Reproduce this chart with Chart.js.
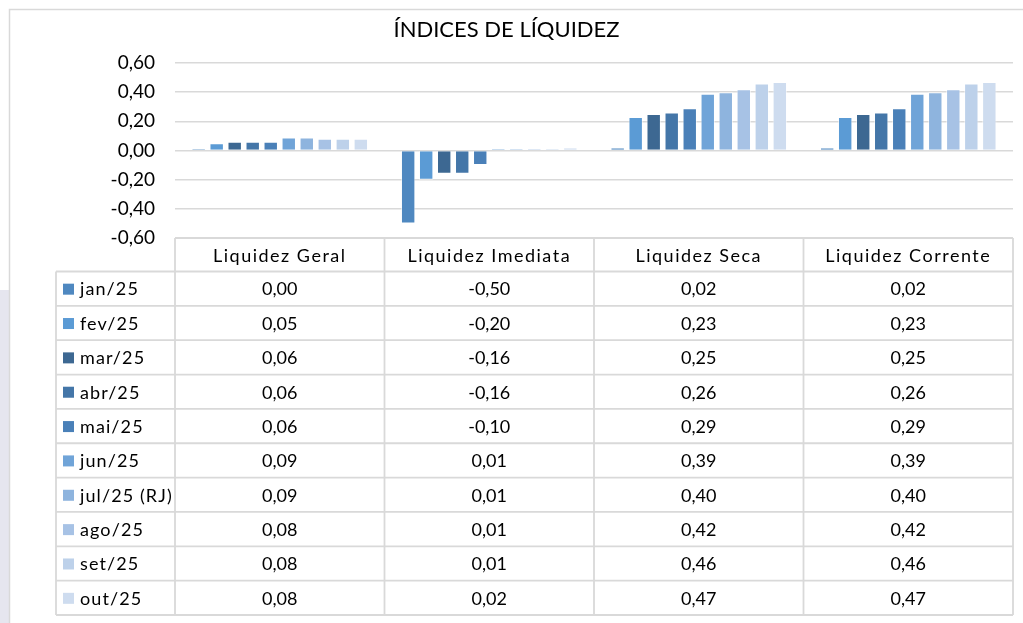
<!DOCTYPE html>
<html>
<head>
<meta charset="utf-8">
<script src="https://cdn.jsdelivr.net/npm/chart.js@4"></script>
<style>
  body { margin: 0; background: #fff; }
  #wrap { width: 1023px; height: 623px; }
</style>
</head>
<body>
<div id="wrap"><canvas id="liquidez-chart" width="1023" height="623"></canvas></div>
<script>
const categories = ["Liquidez Geral", "Liquidez Imediata", "Liquidez Seca", "Liquidez Corrente"];
const months = ["jan/25", "fev/25", "mar/25", "abr/25", "mai/25", "jun/25", "jul/25 (RJ)", "ago/25", "set/25", "out/25"];
const monthColors = ["#4F88C0", "#5B9BD5", "#3D6892", "#4476A8", "#4A80B8",
  "#70A4D8", "#8EB4DE", "#A7C2E5", "#BDD1EA", "#CEDCEF"];

// one value per month, for each index
const liquidezGeral = [0.004, 0.05, 0.06, 0.06, 0.06, 0.09, 0.09, 0.08, 0.08, 0.08];
const liquidezImediata = [-0.50, -0.20, -0.16, -0.16, -0.10, 0.01, 0.01, 0.01, 0.01, 0.02];
const liquidezSeca = [0.02, 0.23, 0.25, 0.26, 0.29, 0.39, 0.40, 0.42, 0.46, 0.47];
const liquidezCorrente = [0.02, 0.23, 0.25, 0.26, 0.29, 0.39, 0.40, 0.42, 0.46, 0.47];
const yTicks = [-0.6, -0.4, -0.2, 0, 0.2, 0.4, 0.6];

const series = [liquidezGeral, liquidezImediata, liquidezSeca, liquidezCorrente];
const fmt = v => v.toFixed(2).replace('.', ',');

const FONT = "Lato, 'Open Sans', sans-serif";
const GRID = "#D9D9D9";

// table under the plot, columns follow the category scale
const dataTable = {
  id: 'dataTable',
  beforeDraw(chart) {
    const ctx = chart.ctx;
    ctx.save();
    ctx.fillStyle = "#fff";
    ctx.fillRect(0, 0, chart.width, chart.height);
    ctx.fillStyle = "#E6E6EF";
    ctx.fillRect(0, 290, 9, chart.height - 290);
    ctx.strokeStyle = GRID;
    ctx.lineWidth = 1.5;
    ctx.beginPath();
    ctx.moveTo(9.5, chart.height);
    ctx.lineTo(9.5, 9.5);
    ctx.lineTo(chart.width, 9.5);
    ctx.stroke();
    ctx.restore();
  },
  afterDraw(chart) {
    const ctx = chart.ctx;
    const area = chart.chartArea;
    const x = chart.scales.x;
    const colW = area.width / categories.length;
    const headTop = area.bottom;
    const headH = 33.5;
    const rowH = 34.35;
    const legendLeft = 56;
    const tableBottom = headTop + headH + rowH * months.length;

    ctx.save();
    ctx.strokeStyle = GRID;
    ctx.lineWidth = 1.8;
    ctx.beginPath();
    ctx.moveTo(area.left, headTop);
    ctx.lineTo(area.right, headTop);
    for (let r = 0; r <= months.length; r++) {
      const y = headTop + headH + r * rowH;
      ctx.moveTo(legendLeft, y);
      ctx.lineTo(area.right, y);
    }
    for (let c = 0; c <= categories.length; c++) {
      const cx = area.left + c * colW;
      ctx.moveTo(cx, headTop);
      ctx.lineTo(cx, tableBottom);
    }
    ctx.moveTo(legendLeft, headTop + headH);
    ctx.lineTo(legendLeft, tableBottom);
    ctx.stroke();

    ctx.fillStyle = "#000";
    ctx.textBaseline = 'middle';
    ctx.textAlign = 'center';
    ctx.font = "18px " + FONT;
    ctx.letterSpacing = "1.5px";
    categories.forEach((cat, c) => {
      ctx.fillText(cat, x.getPixelForValue(c), headTop + headH / 2 + 1);
    });

    months.forEach((m, r) => {
      const cy = headTop + headH + r * rowH + rowH / 2 + 1;
      ctx.letterSpacing = "1.1px";
      ctx.textAlign = 'left';
      ctx.fillStyle = monthColors[r];
      ctx.fillRect(legendLeft + 7, cy - 6, 11, 11);
      ctx.fillStyle = "#000";
      ctx.fillText(m, legendLeft + 24, cy);
      ctx.letterSpacing = "0px";
      ctx.textAlign = 'center';
      series.forEach((vals, c) => {
        ctx.fillText(fmt(vals[r]), x.getPixelForValue(c), cy);
      });
    });
    ctx.restore();
  }
};

const datasets = months.map((m, i) => ({
  label: m,
  data: series.map(s => s[i]),
  backgroundColor: monthColors[i],
  borderColor: "rgba(255,255,255,0.55)",
  borderWidth: 1,
  minBarLength: 2,
  categoryPercentage: 0.86,
  barPercentage: 0.8
}));

new Chart(document.getElementById("liquidez-chart"), {
  type: 'bar',
  data: {
    labels: categories,
    datasets: datasets
  },
  options: {
    responsive: false,
    animation: false,
    layout: {
      padding: { left: 0, right: 10, top: 13, bottom: 385 }
    },
    plugins: {
      legend: { display: false },
      tooltip: { enabled: false },
      title: {
        display: true,
        text: 'ÍNDICES DE LÍQUIDEZ',
        color: '#000',
        font: { family: FONT, size: 22, weight: 'normal' },
        padding: { top: 4, bottom: 19.6 }
      }
    },
    scales: {
      x: {
        display: false
      },
      y: {
        min: -0.6,
        max: 0.6,
        afterFit(scale) { scale.width = 175; },
        afterBuildTicks(scale) { scale.ticks = yTicks.map(v => ({ value: v })); },
        border: { display: false },
        grid: { color: GRID, lineWidth: 1.5, drawTicks: false },
        ticks: {
          padding: 20,
          color: '#000',
          font: { family: FONT, size: 19 },
          callback: v => fmt(v)
        }
      }
    }
  },
  plugins: [dataTable]
});
</script>
</body>
</html>
